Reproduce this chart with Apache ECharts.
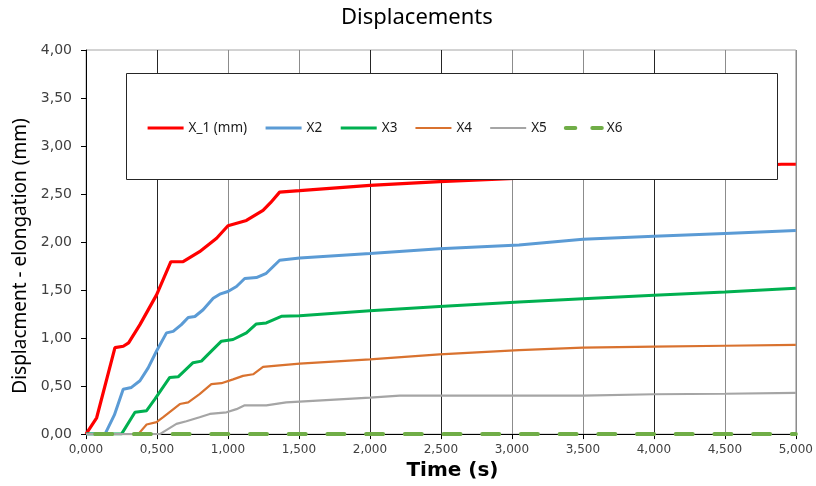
<!DOCTYPE html>
<html>
<head>
<meta charset="utf-8">
<script src="https://cdn.jsdelivr.net/npm/echarts@6/dist/echarts.min.js"></script>
<style>
    html, body { margin: 0; padding: 0; background: #fff; }
    #chart { width: 816px; height: 486px; }
</style>
</head>
<body>
<div id="chart"></div>
<script>
// values (time in s, displacement in mm)
const x1Time = [0, 0.01, 0.075, 0.204, 0.263, 0.3, 0.38, 0.497, 0.598, 0.684, 0.8, 0.92, 1.0, 1.013, 1.13, 1.247, 1.3, 1.364, 1.505, 2.0, 2.49, 2.98, 3.5, 4.0, 4.5, 4.9, 5.0]
const x1Vals = [0, 0, 0.17, 0.9, 0.915, 0.95, 1.14, 1.45, 1.795, 1.795, 1.9, 2.04, 2.17, 2.19, 2.225, 2.33, 2.41, 2.52, 2.535, 2.59, 2.63, 2.66, 2.7, 2.74, 2.78, 2.81, 2.81]

const x2Time = [0, 0.134, 0.2, 0.262, 0.32, 0.38, 0.438, 0.497, 0.567, 0.614, 0.672, 0.72, 0.767, 0.825, 0.896, 0.942, 1.0, 1.06, 1.118, 1.2, 1.27, 1.364, 1.505, 2.0, 2.49, 3.05, 3.5, 4.0, 4.5, 5.0]
const x2Vals = [0, 0, 0.2, 0.468, 0.486, 0.555, 0.69, 0.865, 1.054, 1.07, 1.14, 1.215, 1.225, 1.295, 1.415, 1.457, 1.485, 1.537, 1.62, 1.63, 1.675, 1.81, 1.835, 1.88, 1.93, 1.97, 2.03, 2.06, 2.09, 2.12]

const x3Time = [0, 0.25, 0.345, 0.427, 0.485, 0.59, 0.649, 0.754, 0.813, 0.86, 0.954, 1.036, 1.13, 1.2, 1.27, 1.376, 1.505, 2.0, 2.49, 3.05, 3.5, 4.0, 4.5, 5.0]
const x3Vals = [0, 0, 0.227, 0.244, 0.365, 0.59, 0.596, 0.744, 0.76, 0.83, 0.968, 0.985, 1.054, 1.147, 1.158, 1.227, 1.233, 1.285, 1.33, 1.375, 1.41, 1.445, 1.48, 1.52]

const x4Time = [0, 0.368, 0.427, 0.497, 0.544, 0.661, 0.72, 0.8, 0.883, 0.954, 1.036, 1.106, 1.177, 1.247, 1.364, 1.505, 2.0, 2.49, 3.05, 3.5, 4.0, 4.5, 5.0]
const x4Vals = [0, 0, 0.1, 0.124, 0.176, 0.313, 0.33, 0.417, 0.52, 0.53, 0.57, 0.606, 0.623, 0.7, 0.716, 0.734, 0.778, 0.83, 0.875, 0.9, 0.91, 0.92, 0.93]

const x5Time = [0, 0.52, 0.637, 0.707, 0.8, 0.872, 0.99, 1.06, 1.118, 1.27, 1.41, 1.505, 2.0, 2.21, 3.05, 3.5, 4.0, 4.5, 5.0]
const x5Vals = [0, 0, 0.106, 0.134, 0.176, 0.21, 0.227, 0.26, 0.3, 0.3, 0.33, 0.338, 0.38, 0.4, 0.4, 0.4, 0.415, 0.42, 0.43]

const x6Time = [0, 1, 2, 3, 4, 5]
const x6Vals = [0, 0, 0, 0, 0, 0]

const seriesNames = ['X_1 (mm)', 'X2', 'X3', 'X4', 'X5', 'X6']
const xTicks = [0, 5, 0.5]   // min, max, step
const yTicks = [0, 4, 0.5]

const pairs = (t, v) => t.map((x, i) => [x, v[i]])

const dark = '#262626'
const gray = '#8c8c8c'

const chart = echarts.init(document.getElementById('chart'))

const lineSeries = (i, t, v, color, width, extra) => Object.assign({
    name: seriesNames[i],
    type: 'line',
    symbol: 'none',
    data: pairs(t, v),
    color: color,
    lineStyle: { width: width, color: color }
}, extra || {})

const option = {
    animation: false,
    title: {
        text: 'Displacements',
        left: 336,
        top: 2,
        textStyle: {
            fontFamily: 'Noto Sans',
            fontSize: 22,
            fontWeight: 'normal',
            color: '#000'
        }
    },
    grid: {
        left: 86,
        right: 19,
        top: 50,
        bottom: 49,
        show: true,
        borderColor: '#a6a6a6',
        borderWidth: 1
    },
    legend: {
        z: 200,
        left: 146,
        top: 121,
        padding: 0,
        itemWidth: 36,
        itemHeight: 14,
        itemGap: 17,
        itemStyle: { opacity: 0 },
        lineStyle: { width: 'inherit' },
        textStyle: {
            fontFamily: 'Noto Sans',
            fontSize: 13.5,
            color: '#1a1a1a'
        },
        data: [
            { name: 'X_1 (mm)' },
            { name: 'X2' },
            { name: 'X3' },
            { name: 'X4' },
            { name: 'X5' },
            { name: 'X6', lineStyle: { width: 4, type: [11, 17], cap: 'round' } }
        ]
    },
    graphic: [
        {
            type: 'rect',
            z: 100,
            shape: { x: 126.5, y: 73.5, width: 651, height: 106 },
            style: { fill: '#fff', stroke: dark, lineWidth: 1 }
        }
    ],
    xAxis: {
        type: 'value',
        min: xTicks[0],
        max: xTicks[1],
        interval: xTicks[2],
        name: 'Time (s)',
        nameLocation: 'middle',
        nameGap: 19,
        nameTextStyle: {
            fontFamily: 'DejaVu Sans',
            fontSize: 20,
            fontWeight: 'bold',
            color: '#000',
            padding: [0, 0, 0, 23]
        },
        axisLine: { lineStyle: { color: '#000', width: 1 } },
        axisTick: { show: true, length: 5, lineStyle: { color: '#000' } },
        axisLabel: {
            margin: 10,
            fontFamily: 'DejaVu Sans',
            fontSize: 12,
            color: '#404040',
            formatter: v => v.toFixed(3).replace('.', ',')
        },
        splitLine: {
            show: true,
            lineStyle: {
                color: [dark, dark, gray, gray, dark, dark, gray, gray, dark, gray, gray],
                width: 1
            }
        }
    },
    yAxis: {
        type: 'value',
        min: yTicks[0],
        max: yTicks[1],
        interval: yTicks[2],
        name: 'Displacment - elongation (mm)',
        nameLocation: 'middle',
        nameGap: 52,
        nameTextStyle: {
            fontFamily: 'Noto Sans',
            fontSize: 19,
            color: '#000',
            padding: [0, 28, 0, 0]
        },
        axisLine: { show: true, lineStyle: { color: '#000', width: 1 } },
        axisTick: { show: true, length: 5, lineStyle: { color: '#000' } },
        axisLabel: {
            margin: 14,
            fontFamily: 'DejaVu Sans',
            fontSize: 14,
            color: '#404040',
            formatter: v => v.toFixed(2).replace('.', ',')
        },
        splitLine: { show: false }
    },
    series: [
        lineSeries(0, x1Time, x1Vals, '#ff0000', 3.2),
        lineSeries(1, x2Time, x2Vals, '#5b9bd5', 3),
        lineSeries(2, x3Time, x3Vals, '#00b050', 3),
        lineSeries(3, x4Time, x4Vals, '#d9722f', 2.2),
        lineSeries(4, x5Time, x5Vals, '#a5a5a5', 2.2),
        lineSeries(5, x6Time, x6Vals, '#70ad47', 4, {
            z: 5,
            lineStyle: { width: 4, color: '#70ad47', type: [17, 21.7], dashOffset: 29.5, cap: 'round' }
        })
    ]
}
chart.setOption(option)
</script>
</body>
</html>
